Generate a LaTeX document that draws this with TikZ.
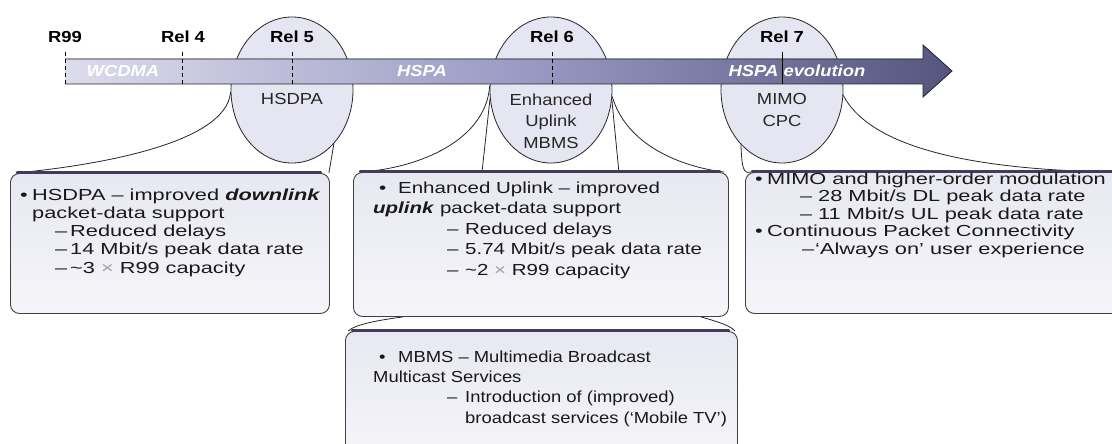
\documentclass[tikz,border=0pt]{standalone}
\usepackage{fontspec}
\setmainfont{Liberation Sans}
\newfontfamily\lblfont{Liberation Sans}[FakeStretch=1.15]
\newfontfamily\boxfontA{Liberation Sans}[FakeStretch=1.36]
\newfontfamily\boxfontB{Liberation Sans}[FakeStretch=1.28]
\newfontfamily\boxfontC{Liberation Sans}[FakeStretch=1.15]
\usetikzlibrary{shapes.geometric, calc}
\pgfdeclarelayer{back}
\pgfsetlayers{back,main}
\definecolor{bubblefill}{HTML}{E6E6F2}
\definecolor{barleft}{HTML}{DCDCEC}
\definecolor{barmid}{HTML}{9C9CC6}
\definecolor{barright}{HTML}{55557F}
\definecolor{boxtop}{HTML}{E8E8F2}
\definecolor{boxbot}{HTML}{F5F5F9}
\definecolor{boxshade}{HTML}{3E3E5C}
\definecolor{timesgray}{HTML}{A0A0B4}
\newcommand{\bul}[1]{\makebox[#1][l]{•}}
\newcommand{\dsh}[2]{\hspace*{#1}\makebox[#2][l]{–}}
\tikzset{
    relbubble/.style={ellipse, draw=black!85, line width=0.8pt, fill=bubblefill, minimum width=122pt, minimum height=146pt, inner sep=0pt},
    reltext/.style={anchor=base, inner sep=0pt, font=\lblfont\bfseries\fontsize{16}{18}\selectfont},
    bubbletext/.style={anchor=base, inner sep=0pt, align=center, font=\lblfont\fontsize{16}{21.5}\selectfont, text=black!85},
    bartext/.style={anchor=base, inner sep=0pt, text=white, font=\lblfont\bfseries\itshape\fontsize{16}{18}\selectfont},
    tick/.style={draw=black, line width=1pt, dash pattern=on 4pt off 3pt},
    callout/.style={draw=black!85, line width=0.8pt},
    infobox/.style={anchor=north west, inner sep=0pt, draw=black!75, line width=0.9pt, rounded corners=9pt, top color=boxtop, bottom color=boxbot},
    topedge/.style={draw=boxshade, line width=2.4pt, line cap=round},
    boxtext/.style={anchor=base west, inner sep=0pt, align=left, text=black!90}
}
\begin{document}
\begin{tikzpicture}[x=1pt, y=-1pt]
    \useasboundingbox (0,0) rectangle (1112,444);
    \clip (0,0) rectangle (1112,444);

    % release bubbles
    \node (rel5) [relbubble] at (292,90) {};
    \node (rel6) [relbubble] at (551,90) {};
    \node (rel7) [relbubble] at (782,90) {};

    % timeline arrow
    \fill [left color=barleft, right color=barright, middle color=barmid]
        (65,59) -- (923,59) -- (923,45) -- (952,71) -- (923,97) -- (923,84) -- (65,84) -- cycle;
    \draw [black!85, line width=0.8pt]
        (65,59) -- (923,59) -- (923,45) -- (952,71) -- (923,97) -- (923,84) -- (65,84);
    \node (wcdma) [bartext] at (123,77) {WCDMA};
    \node (hspa) [bartext] at (422,77) {HSPA};
    \node (hspaevo) [bartext] at (797,77) {HSPA evolution};
    \foreach \xx in {65,182,292,552}
        \draw [tick] (\xx,52) -- (\xx,84);
    \draw [black, line width=0.8pt] (782,52) -- (782,84);

    \node (r99) [reltext] at (65,43) {R99};
    \node (rel4lbl) [reltext] at (183,43) {Rel 4};
    \node (rel5lbl) [reltext] at (292,43) {Rel 5};
    \node (rel6lbl) [reltext] at (552,43) {Rel 6};
    \node (rel7lbl) [reltext] at (782,43) {Rel 7};

    \node (hsdpalbl) [bubbletext] at (292,105) {HSDPA};
    \node (rel6feat) [bubbletext] at (551,148) {Enhanced\\Uplink\\MBMS};
    \node (rel7feat) [bubbletext] at (782,126.5) {MIMO\\CPC};

    % info boxes
    \node (hsdpabox) [infobox, minimum width=319pt, minimum height=140pt] at (10,173) {};
    \node (ulbox) [infobox, minimum width=375pt, minimum height=144pt] at (353,172) {};
    \node (mbmsbox) [infobox, minimum width=392pt, minimum height=130pt] at (345,331) {};
    \node (mimobox) [infobox, minimum width=380pt, minimum height=141pt] at (745,172) {};
    \foreach \bx in {hsdpabox,ulbox,mbmsbox,mimobox}
        \draw [topedge] ([xshift=7pt,yshift=0.6pt]\bx.north west) -- ([xshift=-9pt,yshift=0.6pt]\bx.north east);

    % callouts (behind the boxes)
    \begin{pgfonlayer}{back}
    \draw [callout] (rel5.182) .. controls (226,145) and (90,166) .. ([xshift=6pt]hsdpabox.north west);
    \draw [callout] (rel5.-52) -- ([xshift=-1pt]hsdpabox.north east);
    \draw [callout] (rel6.176) .. controls (486,140) and (420,168) .. ([xshift=8pt]ulbox.north west);
    \draw [callout] (rel6.188) -- ([xshift=129pt]ulbox.north west);
    \draw [callout] (rel6.-6) .. controls (628,150) and (690,168) .. ([xshift=-5pt]ulbox.north east);
    \draw [callout] (rel6.-9) -- ([xshift=-110pt]ulbox.north east);
    \draw [callout] ([xshift=50pt]ulbox.south west) .. controls (380,320) and (356,324) .. ([xshift=3pt]mbmsbox.north west);
    \draw [callout] ([xshift=-28pt]ulbox.south east) .. controls (715,321) and (730,325) .. ([xshift=-3pt]mbmsbox.north east);
    \draw [callout] (rel7.-127) .. controls (742,168) and (743,174) .. ([xshift=6pt]mimobox.north west);
    \draw [callout] (rel7.-5) .. controls (872,150) and (980,170) .. ([xshift=-13pt]mimobox.north east);
    \end{pgfonlayer}

    % box texts
    \node (hsdpatxt) [boxtext, font=\boxfontA\fontsize{16}{18.2}\selectfont] at (20,273)
        {\bul{12pt}HSDPA – improved \textbf{\textit{downlink}}\\
         \hspace*{12pt}packet-data support\\
         \dsh{35pt}{15pt}Reduced delays\\
         \dsh{35pt}{15pt}14 Mbit/s peak data rate\\
         \dsh{35pt}{15pt}\textasciitilde3 \textcolor{timesgray}{×} R99 capacity};
    \node (ultxt) [boxtext, font=\boxfontB\fontsize{16}{20.5}\selectfont] at (373,275)
        {\hspace*{6pt}\bul{19pt}Enhanced Uplink – improved\\
         \textbf{\textit{uplink}} packet-data support\\
         \dsh{74pt}{18pt}Reduced delays\\
         \dsh{74pt}{18pt}5.74 Mbit/s peak data rate\\
         \dsh{74pt}{18pt}\textasciitilde2 \textcolor{timesgray}{×} R99 capacity};
    \node (mbmstxt) [boxtext, font=\boxfontC\fontsize{16}{20.3}\selectfont] at (373,423)
        {\hspace*{6pt}\bul{19pt}MBMS – Multimedia Broadcast\\
         Multicast Services\\
         \dsh{74pt}{18pt}Introduction of (improved)\\
         \hspace*{92pt}broadcast services (‘Mobile TV’)};
    \node (mimotxt) [boxtext, font=\boxfontA\fontsize{16}{17.5}\selectfont] at (755,254)
        {\bul{12pt}MIMO and higher-order modulation\\
         \dsh{45pt}{18pt}28 Mbit/s DL peak data rate\\
         \dsh{45pt}{18pt}11 Mbit/s UL peak data rate\\
         \bul{12pt}Continuous Packet Connectivity\\
         \dsh{47pt}{13pt}‘Always on’ user experience};
\end{tikzpicture}
\end{document}
